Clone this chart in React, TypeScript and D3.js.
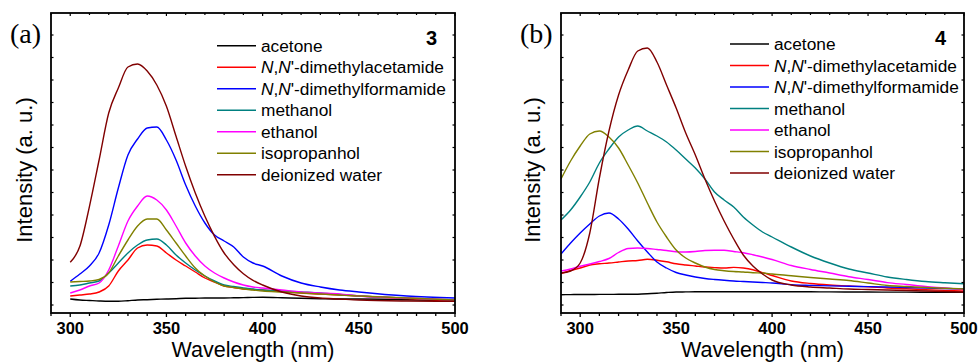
import React from "react";
import * as d3 from "d3";

// legend / series names, same order in both panels
const solvents = [
  "acetone",
  "DMA",
  "DMF",
  "methanol",
  "ethanol",
  "isopropanhol",
  "deionized water"
];
const colors = ["#000000", "#ff0000", "#0000ff", "#008080", "#ff00ff", "#808000", "#800000"];

const xTicks = [300, 350, 400, 450, 500];

// panel (a), compound 3
const wlA = [300, 305, 310, 315, 320, 325, 330, 335, 340, 345, 350, 355, 360, 365, 370, 375, 380, 385, 390, 395, 400, 410, 420, 430, 440, 450, 475, 500];
const acetoneA = [14, 13, 12.5, 12, 11.7, 11.7, 12.3, 13, 13.3, 13.7, 14, 14.3, 14.7, 14.8, 15, 15, 15, 15.2, 15.4, 15.6, 15.7, 15.3, 14.7, 14.3, 14, 14, 13.3, 12.3];
const dmaA = [17, 18, 19, 21, 27, 42, 53, 65, 68, 67, 60, 53, 47, 41, 35, 31, 27, 25.5, 24, 23.5, 23, 21.5, 20, 19, 18, 17, 14.5, 12];
const dmfA = [31.7, 39, 47, 60, 88, 125, 158, 174, 185, 186, 173, 153, 128, 107, 90, 78, 72, 66, 56, 50, 47, 37, 30, 26, 23, 21, 17, 15];
const methanolA = [27, 28, 30, 32, 40, 50, 60, 68, 73, 74, 68, 58, 50, 43, 37, 32, 28, 26.5, 25, 24, 23, 22, 21, 20, 18.5, 17, 15, 13];
const ethanolA = [20, 23, 27, 30, 43, 67, 92, 107, 117, 113, 103, 87, 70, 57, 47, 40, 35, 31, 28, 26, 25, 23, 21, 20, 19, 17, 15, 13];
const isopropanolA = [31, 31.5, 32, 33.5, 40, 57, 73, 87, 94, 94, 83, 70, 57, 45, 37, 31, 27, 25.5, 24, 23, 22, 21, 20, 19, 18, 17, 15, 13];
const waterA = [50.7, 66.7, 106.7, 153, 200, 225, 246, 249, 242, 228, 206.7, 176.7, 146.7, 120, 96.7, 76.7, 60, 48.3, 39.3, 32.7, 28, 21, 17, 15, 14, 13, 12, 11.7];

// panel (b), compound 4
const wlB = [290, 295, 300, 305, 310, 315, 320, 325, 330, 335, 340, 345, 350, 355, 360, 365, 370, 375, 380, 385, 390, 395, 400, 410, 420, 430, 440, 450, 460, 470, 480, 490, 500];
const acetoneB = [18.3, 18.4, 18.5, 18.5, 18.6, 18.6, 18.7, 18.7, 18.8, 19.2, 19.8, 20.5, 21, 21.1, 21.2, 21.2, 21.3, 21.3, 21.3, 21.3, 21.3, 21.3, 21.3, 21.3, 21.2, 21.1, 21, 21, 20.9, 20.9, 20.8, 20.8, 20.7];
const dmaB = [39.5, 42.5, 45, 48, 49.2, 50, 51, 52, 52.5, 53.7, 52.8, 51.2, 49.2, 48, 47, 46, 45.4, 45, 45.6, 45, 43.3, 40.3, 37.5, 32, 29.5, 28, 27, 26.2, 25, 24.2, 23.3, 22.6, 22];
const dmfB = [59, 70, 80, 89, 97, 100, 94, 84, 72, 61, 51, 45, 40.5, 38, 36, 34.5, 33.5, 32.7, 32, 31.5, 31, 30.5, 30, 28.3, 27.6, 27.1, 26.7, 26.4, 26, 25.5, 25, 24.5, 24];
const methanolB = [93, 103, 116, 131, 150, 164, 176, 183, 187, 182, 177, 171, 163, 154, 145, 134, 121, 113, 106, 96, 88, 81, 76, 66, 57, 50, 44, 40, 36, 33.5, 31.5, 30.3, 29.3];
const ethanolB = [42, 44, 46.7, 49, 51.5, 54.5, 60.5, 64.5, 65, 64.5, 63.5, 62.5, 61.2, 61, 61.5, 62.5, 62.8, 62.7, 61.5, 60.3, 58.3, 56, 53.5, 47.5, 43.5, 40, 36.3, 33.5, 30.4, 28.5, 26.5, 25, 23.3];
const isopropanolB = [134, 152, 167, 179, 182, 176, 165, 148, 130, 110, 91, 76, 63, 55, 50, 46, 43.5, 42.3, 41.5, 41, 40.3, 40, 39, 37.3, 35.5, 34, 32.5, 30, 27.5, 26.5, 25.5, 24.7, 24];
const waterB = [40, 42, 50, 80, 135, 182, 218, 243, 262, 265, 251, 228, 205, 180, 158, 134, 112, 92, 74, 58, 47, 39, 33, 28, 26, 25, 24, 23.5, 23, 22.5, 22, 21.5, 21];

const SANS = "'Liberation Sans', Arial, sans-serif";
const SERIF = "'Liberation Serif', 'Times New Roman', serif";

function LegendLabel({ name }: { name: string }) {
  if (name === "DMA" || name === "DMF") {
    return (
      <>
        <tspan fontStyle="italic">N</tspan>,<tspan fontStyle="italic">N</tspan>'
        {name === "DMA" ? "-dimethylacetamide" : "-dimethylformamide"}
      </>
    );
  }
  return <>{name}</>;
}

function Panel({ x0, x1, wl, series, label, num, legendX, legendY, labelX }: any) {
  const top = 13;
  const bottom = 313;
  const xScale = d3.scaleLinear().domain([290, 500]).range([x0, x1]);
  const yScale = d3.scaleLinear().domain([0, 300]).range([bottom, top]);
  const line = d3
    .line<number>()
    .x((d, i) => xScale(wl[i]))
    .y(d => yScale(d))
    .curve(d3.curveMonotoneX);

  const minor = d3.range(290, 501, 10);
  const yTicks = d3.range(8, 300, 22.5);

  return (
    <g>
      <defs>
        <clipPath id={"clip" + label}>
          <rect x={x0} y={top} width={x1 - x0} height={bottom - top} />
        </clipPath>
      </defs>
      <g clipPath={`url(#clip${label})`}>
        {series.map((s: number[], i: number) => (
          <path key={i} d={line(s) || ""} fill="none" stroke={colors[i]} strokeWidth={1.4} />
        ))}
      </g>

      {/* bottom axis ticks */}
      {minor.map(t => (
        <line key={"b" + t} x1={xScale(t)} x2={xScale(t)} y1={bottom} y2={bottom + (t % 50 === 0 ? 4 : 3)} stroke="#000" strokeWidth={1.3} />
      ))}
      {/* top axis ticks, inward */}
      {minor.map(t => (
        <line key={"t" + t} x1={xScale(t)} x2={xScale(t)} y1={top} y2={top + (t % 50 === 0 ? 3 : 2)} stroke="#000" strokeWidth={1.2} />
      ))}
      {/* left / right inward ticks */}
      {yTicks.map(t => (
        <g key={"y" + t}>
          <line x1={x0} x2={x0 + 2.5} y1={yScale(t)} y2={yScale(t)} stroke="#000" strokeWidth={1.2} />
          <line x1={x1} x2={x1 - 2.5} y1={yScale(t)} y2={yScale(t)} stroke="#000" strokeWidth={1.2} />
        </g>
      ))}
      <rect x={x0} y={top} width={x1 - x0} height={bottom - top} fill="none" stroke="#000" strokeWidth={1.8} />

      {xTicks.map(t => (
        <text key={"l" + t} x={xScale(t)} y={333.5} textAnchor="middle" fontFamily={SANS} fontWeight="bold" fontSize={16.5}>
          {t}
        </text>
      ))}
      <text x={(x0 + x1) / 2} y={356.5} textAnchor="middle" fontFamily={SANS} fontSize={21.5}>
        Wavelength (nm)
      </text>
      <text transform={`translate(${labelX},170) rotate(-90)`} textAnchor="middle" fontFamily={SANS} fontSize={22}>
        Intensity (a. u.)
      </text>

      <text x={x0 - 41} y={43} fontFamily={SERIF} fontSize={28}>
        ({label})
      </text>
      <text x={x1 - 18} y={45} textAnchor="end" fontFamily={SANS} fontWeight="bold" fontSize={20}>
        {num}
      </text>

      {solvents.map((name, i) => {
        const ly = legendY + i * 21.5;
        return (
          <g key={name}>
            <line x1={legendX} x2={legendX + 39} y1={ly} y2={ly} stroke={colors[i]} strokeWidth={1.4} />
            <text x={legendX + 44} y={ly + 6} fontFamily={SANS} fontSize={17.3}>
              <LegendLabel name={name} />
            </text>
          </g>
        );
      })}
    </g>
  );
}

export default function App() {
  return (
    <svg width={980} height={362} style={{ position: "absolute", left: 0, top: 0, background: "#fff" }}>
      <Panel
        x0={51}
        x1={455}
        wl={wlA}
        series={[acetoneA, dmaA, dmfA, methanolA, ethanolA, isopropanolA, waterA]}
        label="a"
        num="3"
        legendX={217}
        legendY={45.7}
        labelX={32}
      />
      <Panel
        x0={561}
        x1={964}
        wl={wlB}
        series={[acetoneB, dmaB, dmfB, methanolB, ethanolB, isopropanolB, waterB]}
        label="b"
        num="4"
        legendX={730}
        legendY={44}
        labelX={540}
      />
    </svg>
  );
}
